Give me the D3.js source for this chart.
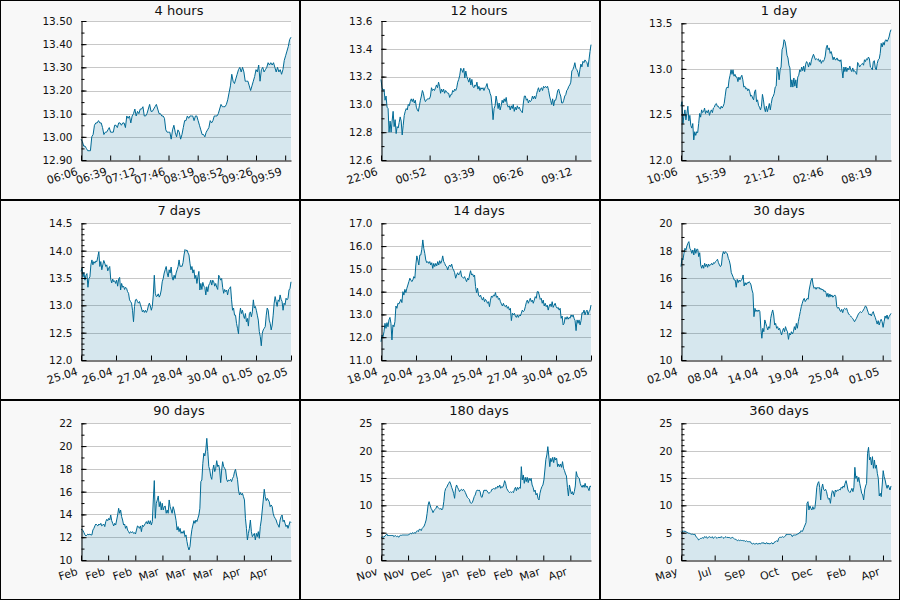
<!DOCTYPE html>
<html><head><meta charset="utf-8">
<script src="https://cdn.jsdelivr.net/npm/d3@7"></script>
<style>
body{margin:0;background:#fff}
svg{display:block}
text{font-family:"DejaVu Sans",sans-serif;fill:#111}
</style>
</head><body><svg id="c" width="900" height="600"></svg>
<script>
const titles = ["4 hours","12 hours","1 day","7 days","14 days","30 days","90 days","180 days","360 days"];

const vals4h = [12.99,12.98,12.96,12.96,12.95,12.94,12.94,12.94,13.00,13.01,13.05,13.06,13.06,13.07,13.06,13.06,13.04,13.01,13.02,13.02,13.03,13.04,13.02,13.02,13.02,13.05,13.05,13.04,13.06,13.06,13.05,13.06,13.06,13.04,13.09,13.08,13.09,13.06,13.09,13.10,13.12,13.09,13.11,13.10,13.12,13.12,13.13,13.09,13.09,13.10,13.12,13.14,13.11,13.11,13.12,13.13,13.14,13.12,13.10,13.10,13.09,13.09,13.08,13.03,13.02,13.02,13.02,12.99,13.03,13.05,13.02,13.00,13.03,13.02,12.99,13.01,13.04,13.07,13.07,13.09,13.08,13.09,13.09,13.09,13.07,13.09,13.09,13.07,13.05,13.03,13.01,13.01,13.00,13.02,13.03,13.04,13.07,13.06,13.07,13.09,13.09,13.09,13.10,13.12,13.14,13.13,13.13,13.13,13.14,13.16,13.19,13.22,13.27,13.24,13.23,13.25,13.27,13.29,13.30,13.28,13.30,13.28,13.24,13.24,13.24,13.22,13.20,13.22,13.24,13.26,13.29,13.28,13.31,13.24,13.29,13.30,13.28,13.29,13.30,13.32,13.31,13.32,13.31,13.32,13.30,13.28,13.30,13.28,13.29,13.27,13.29,13.33,13.35,13.37,13.39,13.42,13.43];

const vals12h = [13.18,13.12,13.10,13.11,13.03,13.06,12.98,12.97,12.80,12.88,12.80,12.88,12.95,12.84,12.89,12.79,12.84,12.83,12.87,12.91,12.88,12.78,12.85,12.92,12.95,12.97,12.96,13.00,12.99,13.02,13.04,13.02,13.04,13.01,13.03,12.98,12.96,12.95,12.99,13.03,13.06,13.10,13.08,13.04,13.02,13.03,13.04,13.04,13.04,13.06,13.12,13.10,13.11,13.10,13.12,13.14,13.12,13.16,13.13,13.08,13.11,13.09,13.11,13.08,13.10,13.09,13.08,13.08,13.05,13.07,13.07,13.10,13.09,13.11,13.10,13.12,13.16,13.18,13.21,13.26,13.25,13.23,13.26,13.19,13.24,13.20,13.18,13.16,13.19,13.14,13.18,13.13,13.12,13.14,13.13,13.16,13.11,13.13,13.10,13.12,13.11,13.12,13.10,13.12,13.13,13.15,13.11,13.11,13.08,13.06,12.99,12.89,12.97,12.99,13.06,13.02,12.97,13.01,12.96,12.99,13.03,13.01,13.04,13.02,13.05,13.00,12.98,12.99,12.96,12.99,12.97,13.00,12.95,12.98,12.96,12.99,12.97,12.98,12.96,12.95,12.94,13.01,13.06,13.06,13.03,13.04,13.01,13.03,13.02,13.03,13.06,13.04,13.06,13.04,13.07,13.10,13.12,13.09,13.11,13.12,13.10,13.13,13.12,13.13,13.12,13.13,13.10,13.06,13.03,13.00,13.04,12.99,13.03,13.03,13.06,13.10,13.11,13.08,13.06,13.01,13.01,13.03,13.06,13.07,13.10,13.11,13.13,13.14,13.16,13.24,13.25,13.27,13.30,13.26,13.25,13.23,13.20,13.25,13.29,13.27,13.31,13.30,13.32,13.31,13.30,13.27,13.32,13.38,13.43];

const vals1d = [12.59,12.64,12.40,12.49,12.55,12.44,12.51,12.59,12.43,12.49,12.38,12.35,12.40,12.22,12.31,12.27,12.31,12.30,12.40,12.51,12.47,12.55,12.52,12.53,12.57,12.51,12.54,12.52,12.55,12.49,12.53,12.55,12.52,12.57,12.58,12.61,12.62,12.59,12.59,12.57,12.56,12.59,12.57,12.59,12.62,12.70,12.78,12.80,12.79,12.88,12.93,12.99,12.94,12.99,12.92,12.94,12.91,12.91,12.86,12.91,12.88,12.91,12.93,12.88,12.80,12.81,12.78,12.79,12.76,12.78,12.75,12.70,12.71,12.68,12.66,12.75,12.77,12.64,12.66,12.60,12.58,12.55,12.59,12.72,12.66,12.57,12.53,12.59,12.53,12.57,12.62,12.55,12.62,12.68,12.70,12.73,12.80,12.81,13.02,12.99,12.88,12.99,13.02,13.21,13.24,13.32,13.30,13.24,13.15,13.12,13.04,13.01,12.80,12.88,12.80,12.90,12.81,12.88,12.79,12.91,12.93,12.99,12.97,13.02,12.98,13.03,12.97,13.05,13.08,13.06,13.02,13.07,13.04,13.10,13.13,13.16,13.13,13.10,13.11,13.10,13.11,13.08,13.10,13.06,13.09,13.08,13.10,13.14,13.23,13.26,13.21,13.23,13.17,13.19,13.15,13.10,13.13,13.10,13.10,13.12,13.09,13.10,13.08,13.10,12.99,12.90,13.02,12.97,13.02,12.97,13.01,12.99,13.03,12.99,12.97,13.01,12.97,12.98,12.96,12.94,13.07,13.05,13.02,13.04,13.05,13.06,13.04,13.10,13.08,13.11,13.10,13.13,13.11,13.02,13.01,12.99,13.08,13.09,13.01,12.99,13.06,13.10,13.11,13.17,13.28,13.24,13.29,13.26,13.31,13.32,13.30,13.32,13.35,13.40,13.43];

const vals7d = [13.62,13.68,13.52,13.60,13.46,13.55,13.58,13.33,13.49,13.52,13.74,13.83,13.74,13.80,13.77,13.81,13.80,13.89,13.98,13.71,13.80,13.65,13.74,13.82,13.77,13.71,13.74,13.63,13.68,13.71,13.48,13.41,13.48,13.43,13.45,13.40,13.46,13.35,13.48,13.51,13.28,13.40,13.33,13.35,13.29,13.33,13.31,13.25,13.22,13.10,13.07,13.04,12.91,12.70,12.98,13.10,13.11,13.07,13.04,13.07,13.01,12.95,12.88,12.91,12.87,12.91,12.87,12.91,12.99,13.04,12.99,12.91,12.98,13.19,13.55,13.22,13.16,13.17,13.21,13.15,13.19,13.28,13.43,13.49,13.59,13.65,13.71,13.59,13.52,13.65,13.59,13.70,13.52,13.46,13.55,13.49,13.59,13.65,13.71,13.83,13.71,13.72,13.71,13.78,13.92,14.02,14.00,14.01,13.96,13.92,13.77,13.65,13.71,13.59,13.65,13.49,13.55,13.40,13.52,13.62,13.28,13.40,13.29,13.42,13.35,13.33,13.19,13.34,13.25,13.37,13.40,13.46,13.37,13.46,13.43,13.35,13.40,13.33,13.29,13.55,13.51,13.46,13.49,13.33,13.22,13.29,13.25,13.28,13.19,13.29,13.31,13.34,13.10,12.91,12.95,12.82,12.82,12.67,12.58,12.48,12.82,12.95,12.85,12.91,12.82,12.76,12.85,12.70,12.76,12.62,12.85,12.88,12.79,12.88,13.10,12.95,12.98,12.91,12.82,12.73,12.52,12.43,12.26,12.49,12.55,12.58,12.61,12.82,12.95,12.91,12.73,12.67,12.55,12.64,12.82,13.04,13.16,13.07,12.98,13.10,13.07,13.19,13.11,13.07,12.91,13.04,13.01,13.13,13.10,13.13,13.28,13.31,13.43];

const vals14d = [11.80,12.10,12.02,12.24,12.61,12.39,12.64,12.46,12.76,12.87,12.61,11.88,12.54,12.46,12.68,13.37,13.27,13.49,13.46,13.56,13.66,13.52,14.00,13.85,14.10,13.96,14.15,14.29,14.44,14.59,14.51,14.44,14.51,14.66,14.59,15.17,15.57,15.39,15.17,15.61,15.61,15.86,16.27,15.90,15.68,15.39,15.27,15.32,15.24,15.32,15.17,15.27,15.02,15.24,15.10,15.24,15.13,15.32,15.17,15.36,15.24,15.35,15.57,15.32,15.24,15.13,15.10,14.95,15.10,15.17,15.10,15.21,15.02,14.95,14.83,14.59,14.73,14.83,14.73,14.80,14.92,14.66,14.63,14.59,14.66,14.54,14.44,14.59,14.51,14.73,14.92,14.73,14.78,14.66,14.73,14.22,13.96,14.15,13.85,13.78,13.85,13.71,13.63,13.75,13.56,13.66,13.60,13.49,13.56,13.34,13.63,13.81,13.75,13.85,13.81,13.96,13.75,13.81,13.66,13.71,13.56,13.46,13.37,13.49,13.37,13.34,13.41,13.27,13.34,13.19,13.27,12.73,13.05,12.98,13.05,12.93,12.87,12.98,12.87,12.98,12.93,13.05,13.19,13.12,13.17,13.34,13.52,13.63,13.49,13.60,13.71,13.56,13.63,13.49,13.63,13.78,13.71,14.00,14.00,13.85,13.66,13.71,13.49,13.63,13.37,13.49,13.34,13.41,13.19,13.37,13.46,13.34,13.56,13.31,13.41,13.49,13.34,13.27,13.31,13.19,13.27,12.83,12.93,12.54,12.61,12.87,12.79,12.90,12.79,12.87,12.83,12.98,12.90,12.98,12.83,12.73,12.29,12.76,12.61,12.76,12.54,12.73,13.08,13.05,13.19,12.98,13.12,13.19,12.98,13.12,13.19,13.41];

const vals30d = [16.83,17.44,17.32,17.80,18.17,18.05,18.34,18.54,18.66,18.17,18.05,17.80,18.05,17.68,18.17,17.80,18.10,18.10,17.56,17.85,16.95,16.71,16.95,16.71,17.07,16.83,17.02,16.78,17.02,16.88,16.95,17.07,16.95,17.12,17.07,17.20,17.27,17.37,17.12,16.95,16.83,16.95,17.68,17.93,17.76,17.93,17.85,17.76,17.44,17.27,16.95,16.39,16.22,16.05,15.85,15.85,15.32,15.90,15.66,15.85,15.73,15.85,15.90,16.22,15.41,15.66,15.49,15.66,15.61,15.73,15.66,15.49,15.12,14.88,13.17,13.78,13.54,13.66,13.54,13.66,13.54,12.32,11.59,12.32,12.07,12.93,12.68,12.44,12.20,12.44,12.32,13.05,13.41,13.66,13.29,12.56,12.68,12.32,12.44,12.20,12.32,12.07,11.83,12.15,12.32,12.07,12.44,12.20,12.07,11.51,11.95,11.83,12.07,11.90,12.07,12.44,12.20,12.68,12.32,12.80,13.17,13.54,13.90,14.15,14.39,14.51,14.27,14.39,14.51,14.44,15.12,15.49,15.85,15.98,15.49,15.24,15.32,15.17,15.32,15.24,15.32,15.17,15.24,15.12,15.17,15.00,15.07,14.93,14.63,14.88,14.59,14.83,14.63,14.76,14.59,14.68,14.76,14.63,13.90,13.78,13.85,13.66,13.54,13.71,13.46,13.71,13.78,13.71,13.78,13.54,13.37,13.29,13.22,13.12,13.05,12.93,12.80,12.93,13.05,13.22,13.37,13.46,13.54,13.46,13.54,13.66,13.78,13.95,13.90,13.66,13.46,13.29,13.37,13.22,13.41,13.54,13.29,13.12,12.88,12.63,12.88,12.56,12.80,12.98,12.80,12.39,12.80,13.22,13.05,13.29,12.98,13.17,13.29,13.41];

const vals90d = [12.69,12.69,12.58,12.40,12.20,12.11,12.20,12.28,12.20,12.28,12.20,12.20,12.63,12.78,12.99,13.16,13.07,12.99,13.16,13.07,13.22,12.99,13.07,13.16,12.93,13.37,13.57,13.45,13.66,13.51,13.95,13.45,13.22,12.99,13.22,13.07,13.51,13.95,14.54,14.10,14.39,13.81,13.51,13.07,13.16,12.78,12.99,12.63,12.49,12.34,12.49,12.40,12.49,12.34,12.40,12.28,12.63,12.99,12.93,12.78,12.99,12.49,13.07,12.93,13.07,13.22,13.37,13.16,13.45,13.16,13.45,13.07,13.37,15.27,16.97,13.66,14.98,15.27,15.62,14.68,15.12,14.39,14.98,14.39,14.68,14.74,14.10,14.39,14.10,15.27,14.68,14.39,14.10,14.68,14.39,13.95,13.45,12.63,12.93,12.49,12.78,12.34,12.49,12.34,12.58,12.05,12.20,11.61,11.17,10.88,11.17,12.05,12.69,13.07,13.45,13.22,13.51,13.37,13.66,13.95,14.54,16.88,17.02,18.49,19.37,19.13,19.66,20.68,19.51,18.20,17.90,17.32,17.08,17.90,18.34,17.76,18.05,18.72,18.20,18.34,17.90,16.79,17.90,18.63,18.20,18.05,17.90,17.08,16.88,17.02,16.97,17.08,16.88,17.17,17.32,17.76,17.96,17.46,17.08,16.15,15.71,15.92,15.71,15.85,15.56,15.27,13.66,12.78,11.76,12.34,12.78,13.51,12.49,12.05,12.20,12.34,11.76,12.34,12.05,12.49,11.90,12.93,13.51,14.39,15.27,16.21,15.56,15.21,15.41,15.27,15.12,14.68,14.83,14.68,14.10,13.81,13.66,13.51,13.22,13.07,12.87,13.51,13.81,13.95,13.37,13.51,13.22,12.93,13.07,12.78,13.07,13.37,13.28];

const vals180d = [4.15,4.15,4.27,4.15,4.39,4.57,4.76,4.39,4.57,4.39,4.57,4.39,4.57,4.27,4.39,4.45,4.27,4.39,4.15,4.39,4.57,4.51,4.57,4.57,4.57,4.57,4.57,4.57,4.57,4.76,4.88,4.76,5.00,4.88,5.00,4.88,5.18,5.37,5.18,5.61,5.61,5.37,5.79,5.98,6.22,6.71,7.32,8.54,10.06,10.67,10.06,9.45,9.15,8.66,9.02,9.27,9.45,9.88,9.63,9.45,9.27,9.45,9.15,9.45,10.67,12.50,13.11,13.29,13.72,14.02,14.33,13.90,13.29,12.80,12.20,11.28,13.11,13.72,13.29,12.93,12.50,12.80,12.93,12.68,12.93,12.68,12.32,11.89,11.46,11.28,11.10,10.49,10.37,10.49,10.98,11.59,11.89,12.50,12.80,12.68,12.80,12.50,11.59,11.46,12.20,12.80,12.68,12.80,12.68,12.32,12.20,12.32,12.50,12.93,12.93,13.11,12.93,13.29,13.11,13.54,13.29,13.72,13.11,13.41,13.29,13.72,14.51,14.02,13.11,12.80,12.50,12.32,12.50,12.32,12.50,12.32,12.93,13.29,12.68,13.29,12.93,13.29,13.11,17.07,14.63,15.55,14.02,15.12,14.33,15.12,14.15,14.94,14.51,14.94,13.72,13.29,12.50,12.80,11.89,12.20,11.28,10.98,12.20,12.93,13.41,13.72,14.63,16.46,18.41,19.21,20.73,19.02,17.07,18.60,17.99,18.78,17.80,18.78,18.29,18.60,17.07,17.56,17.07,17.56,16.95,17.99,16.77,16.34,15.73,15.37,13.29,11.71,13.72,12.80,12.07,12.50,11.89,12.50,13.54,16.16,15.37,15.12,14.94,14.02,13.54,13.29,13.72,13.29,14.02,13.29,13.54,13.11,12.68,13.54,13.41];

const vals360d = [5.18,5.00,5.37,5.18,5.30,5.18,5.06,5.00,4.88,4.88,4.76,4.70,4.76,4.57,4.76,4.39,4.15,3.96,3.66,3.78,3.96,3.96,4.09,3.96,4.27,4.15,4.27,3.96,4.15,4.27,4.15,4.09,4.27,3.96,4.09,4.27,4.09,3.96,4.15,4.09,4.15,4.15,4.27,4.09,3.96,4.15,4.27,4.09,4.15,4.09,4.09,3.96,4.09,4.15,3.96,3.78,3.78,3.66,3.54,3.66,3.54,3.66,3.48,3.66,3.48,3.54,3.35,3.54,3.35,3.35,3.35,3.35,3.05,2.93,3.05,2.93,2.93,3.05,2.93,2.93,3.05,2.93,3.05,3.17,3.05,3.17,2.93,3.05,3.17,2.93,3.05,2.93,3.05,3.17,2.93,3.05,3.35,3.35,3.54,3.35,3.96,4.15,4.15,4.15,4.27,4.15,4.27,4.39,4.76,4.57,4.76,4.57,4.76,4.57,4.27,4.57,4.57,4.57,4.57,4.76,4.76,5.00,5.00,5.37,5.18,5.49,5.98,6.40,6.83,10.37,10.67,9.15,9.88,9.45,9.15,9.76,9.27,9.45,10.98,13.29,14.02,14.33,13.29,10.98,13.11,13.90,12.93,12.68,12.93,12.50,11.59,11.10,11.28,10.37,11.89,12.68,12.50,11.59,12.80,12.50,12.80,12.68,12.93,12.80,13.29,13.11,13.54,13.29,14.02,14.51,13.72,12.80,12.50,12.32,12.68,13.11,12.50,13.29,16.95,14.94,15.37,14.33,15.12,14.02,13.11,12.20,11.89,10.98,12.80,13.54,14.02,19.51,20.61,18.29,18.78,17.38,18.90,16.77,18.29,16.77,17.38,15.85,14.94,11.71,12.20,11.59,13.72,16.34,15.24,14.63,13.72,13.11,13.72,13.29,12.80,13.54];

const seriesList = [vals4h, vals12h, vals1d, vals7d, vals14d, vals30d, vals90d, vals180d, vals360d];

// x span of each panel in hours, and tick spacing in hours
const spanHours = [4, 12, 24, 168, 336, 720, 2160, 4320, 8640];
const tickEveryHours = [0.5556, 2.7778, 5.5556, 28, 56, 138.3, 279.2, 556.4, 1385];
const xTickLabels = [
  ["06:06","06:39","07:12","07:46","08:19","08:52","09:26","09:59"],
  ["22:06","00:52","03:39","06:26","09:12"],
  ["10:06","15:39","21:12","02:46","08:19"],
  ["25.04","26.04","27.04","28.04","30.04","01.05","02.05"],
  ["18.04","20.04","23.04","25.04","27.04","30.04","02.05"],
  ["02.04","08.04","14.04","19.04","25.04","01.05"],
  ["Feb","Feb","Feb","Mar","Mar","Mar","Apr","Apr"],
  ["Nov","Nov","Dec","Jan","Feb","Feb","Mar","Apr"],
  ["May","Jul","Sep","Oct","Dec","Feb","Apr"]
];
const yDomains = [[12.9,13.5],[12.6,13.6],[12.0,13.5],[12.0,14.5],[11,17],[10,20],[10,22],[0,25],[0,25]];
const yMajorStep = [0.1,0.2,0.5,0.5,1,2,2,5,5];
const yMinorStep = [0.05,0.1,0.1,0.1,0.5,1,1,1,1];
const yFormats = [".2f",".1f",".1f",".1f",".1f","d","d","d","d"];

const W = 300, H = 200;
const plotLeft = 81, plotRight = 291, plotBottom = 160;
const plotTops = [21,21,23.3,23.3,23.3,23.3,23.3,23.3,23.3];
const lineColor = "#006a95";

const svg = d3.select("#c");

seriesList.forEach((vals, p) => {
  const col = p % 3, row = Math.floor(p / 3);
  const g = svg.append("g").attr("transform", `translate(${col*W},${row*H})`);
  const top = plotTops[p];

  g.append("rect").attr("x",0.5).attr("y",0.5).attr("width",W-1).attr("height",H-1)
    .attr("fill","#f8f8f8").attr("stroke","#000").attr("stroke-width",1);
  g.append("rect").attr("x",plotLeft).attr("y",top).attr("width",plotRight-plotLeft).attr("height",plotBottom-top)
    .attr("fill","#fff");

  const span = spanHours[p];
  const x = d3.scaleLinear().domain([0, span]).range([plotLeft, plotRight]);
  const [lo, hi] = yDomains[p];
  const y = d3.scaleLinear().domain([lo, hi]).range([plotBottom, top]);

  const eps = 1e-9;
  const major = d3.range(0, Math.round((hi-lo)/yMajorStep[p]) + 1).map(k => +(lo + k*yMajorStep[p]).toFixed(4));
  const minor = d3.range(0, Math.round((hi-lo)/yMinorStep[p]) + 1).map(k => +(lo + k*yMinorStep[p]).toFixed(4));

  // gridlines
  g.append("g").selectAll("line").data(major.filter(v => v > lo + eps)).join("line")
    .attr("x1", plotLeft).attr("x2", plotRight)
    .attr("y1", d => Math.round(y(d)) + 0.5).attr("y2", d => Math.round(y(d)) + 0.5)
    .attr("stroke", "#c8c8c8").attr("stroke-width", 1);

  const n = vals.length;
  const data = vals.map((v, i) => ({t: i * span / (n - 1), v}));

  g.append("path").datum(data)
    .attr("fill", lineColor).attr("fill-opacity", 0.16)
    .attr("d", d3.area().x(d => x(d.t)).y0(plotBottom).y1(d => y(d.v)));
  g.append("path").datum(data)
    .attr("fill", "none").attr("stroke", lineColor).attr("stroke-width", 1)
    .attr("d", d3.line().x(d => x(d.t)).y(d => y(d.v)));

  // y axis (ticks pointing inward)
  const yAxis = d3.axisLeft(y).tickValues(major).tickFormat(d3.format(yFormats[p]))
    .tickSizeInner(-5).tickSizeOuter(0).tickPadding(9);
  const ya = g.append("g").attr("transform", `translate(${plotLeft+0.5},0)`).call(yAxis);
  ya.selectAll("text").attr("font-size", "10.5px").attr("font-family", '"DejaVu Sans", sans-serif').attr("fill","#111");
  ya.selectAll("path, line").attr("stroke", "#000");
  const yMinorAxis = d3.axisLeft(y).tickValues(minor).tickFormat("").tickSizeInner(-3).tickSizeOuter(0);
  const ym = g.append("g").attr("transform", `translate(${plotLeft+0.5},0)`).call(yMinorAxis);
  ym.select(".domain").remove();
  ym.selectAll("line").attr("stroke", "#000");

  // x axis
  const labels = xTickLabels[p];
  const tickVals = labels.map((_, k) => k * tickEveryHours[p]);
  const xAxis = d3.axisBottom(x).tickValues(tickVals).tickFormat((d, i) => labels[i])
    .tickSizeInner(-5).tickSizeOuter(0);
  const xa = g.append("g").attr("transform", `translate(0,${plotBottom+0.5})`).call(xAxis);
  xa.selectAll("path, line").attr("stroke", "#000");
  xa.selectAll("text")
    .attr("y", 0).attr("dy", 0).attr("x", 0)
    .attr("text-anchor", "end")
    .attr("transform", "translate(-3,14) rotate(-18)")
    .attr("font-size", "11px").attr("font-family", '"DejaVu Sans", sans-serif').attr("fill","#111");

  g.append("text").attr("x", 179).attr("y", 15).attr("text-anchor", "middle")
    .attr("font-size", "13px").text(titles[p]);
});
</script>
</body></html>
